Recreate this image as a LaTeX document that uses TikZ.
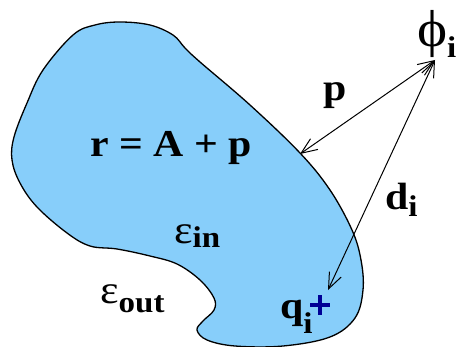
\documentclass[tikz,border=0pt]{standalone}
\usepackage{fontspec}
\setmainfont{Liberation Serif}
\newfontfamily\labfont[FakeStretch=1.1]{Liberation Serif}
\usetikzlibrary{arrows.meta}
\definecolor{blobblue}{RGB}{135,206,250}
\definecolor{plusblue}{RGB}{0,0,150}
\tikzset{
  dbl/.style={{Straight Barb[length=16pt,width=13pt]}-{Straight Barb[length=16pt,width=13pt]}, line width=1pt},
  lab/.style={inner sep=0pt, anchor=base west, font=\labfont\bfseries\fontsize{38}{40}\selectfont},
  eps/.style={inner sep=0pt, anchor=base west, font=\labfont\fontsize{40}{42}\selectfont},
}
\newcommand{\subb}[2]{\raisebox{#1}{\fontsize{30}{32}\selectfont\bfseries #2}}
\begin{document}
\begin{tikzpicture}[x=1pt,y=-1pt]
\useasboundingbox (0,0) rectangle (457,347);
\draw[fill=blobblue, line width=1.3pt] plot[smooth cycle, tension=0.6] coordinates {
(120,22) (150,25) (173,35) (185,48) (200,62) (250,105) (300,153) (330,190)
(352,230) (361,260) (363,290) (355,318) (330,337) (283,346) (235,346) (207,340)
(197,330) (203,321) (214,310) (214,298) (200,280) (177,264) (150,256) (117,249)
(90,246) (67,233) (37,207) (20,183) (12,160) (14,137) (27,103) (43,70) (73,35) (95,25)};
\coordinate (apex) at (435,60);
\coordinate (pend) at (300,154);
\coordinate (qend) at (328,290);
\draw[dbl] (pend) -- (apex);
\draw[dbl] (qend) -- (apex);
\node[lab] (req) at (90,157) {r = A + p};
\node[lab] (plab) at (323,101) {p};
\node[lab] (dlab) at (385,210) {d\subb{-7pt}{i}};
\node[lab] (qlab) at (280,318) {q\subb{-15pt}{i}};
\node[inner sep=0pt, font=\labfont\fontsize{52}{54}\selectfont] (phi) at (433,34) {ϕ};
\node[inner sep=0pt, anchor=base west, font=\labfont\bfseries\fontsize{30}{32}\selectfont] (phii) at (447,58) {i};
\node[eps] (ein) at (174,243) {ε\subb{-5pt}{in}};
\node[eps] (eout) at (100,303) {ε\subb{-9pt}{out}};
\draw[plusblue, line width=4pt] (310,305) -- (330,305) (320,295) -- (320,315);
\end{tikzpicture}
\end{document}
